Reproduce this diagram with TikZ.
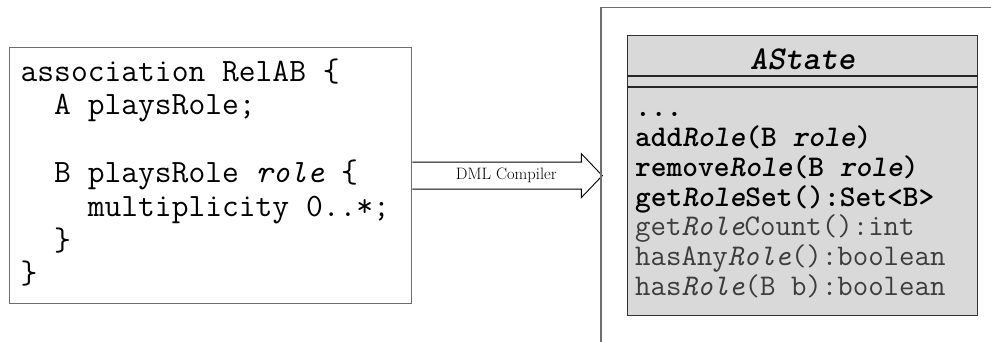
\documentclass[tikz,border=0pt]{standalone}
\usepackage{fontspec}
\usetikzlibrary{positioning, calc}

\definecolor{boxgray}{HTML}{6E6E6E}
\definecolor{classfill}{HTML}{D9D9D9}
\definecolor{opgray}{HTML}{3C3C3C}

% keep the full mono space inside align=left nodes
\newcommand{\monosp}{\spaceskip=0pt\xspaceskip=0pt\relax}

\tikzset{
    codebox/.style={draw=boxgray, line width=1.3pt, align=left, inner xsep=11pt, inner ysep=0pt,
        text width=380pt, minimum height=256pt, font=\ttfamily\fontsize{32.6}{33.8}\selectfont},
    compiler/.style={draw, line width=0.9pt, line join=miter},
    classbox/.style={draw=black!80, line width=1.3pt, fill=classfill, minimum width=350pt,
        minimum height=280pt, inner sep=0pt},
    classline/.style={line width=1.3pt, draw=black!85},
    opsbox/.style={align=left, inner xsep=8pt, inner ysep=9pt, text width=334pt,
        font=\ttfamily\fontsize{30}{29.7}\selectfont}
}

\begin{document}
\begin{tikzpicture}[x=1pt, y=-1pt]
    \useasboundingbox (0, 0) rectangle (991, 342);

    % DML source
    \node[codebox, anchor=north west] (src) at (9, 47) {\monosp
        \strut association RelAB \{\\
        ~~A playsRole;\\
        ~\\
        ~~B playsRole \textit{role} \{\\
        ~~~~multiplicity 0..*;\\
        ~~\}\\
        \}\strut};

    % compiler arrow
    \draw[compiler] ($(src.east) + (0, -13.5)$) -- ++(169, 0) -- ++(0, -8.5) -- ++(21, 22)
        -- ++(-21, 22) -- ++(0, -8.5) -- ++(-169, 0);
    \node[font=\fontsize{16.5}{18}\selectfont] (comp) at ($(src.east) + (94, 0)$) {DML Compiler};

    % generated code frame
    \draw[boxgray, line width=1.5pt] (601, 342) |- (991, 7.5);

    \node[classbox, anchor=north west] (cls) at (627, 35) {};
    \node[font=\ttfamily\bfseries\itshape\fontsize{33.3}{34}\selectfont] (title)
        at ($(cls.north) + (0, 24)$) {AState};
    \draw[classline] ($(cls.north west) + (0, 41)$) -- ($(cls.north east) + (0, 41)$);
    \draw[classline] ($(cls.north west) + (0, 52)$) -- ($(cls.north east) + (0, 52)$);

    \node[opsbox, anchor=north west] (ops) at ($(cls.north west) + (0, 52)$) {\monosp
        \strut\textbf{...}\\
        \textbf{add\textit{Role}(B \textit{role})}\\
        \textbf{remove\textit{Role}(B \textit{role})}\\
        \textbf{get\textit{Role}Set():Set<B>}\\
        \textcolor{opgray}{get\textit{Role}Count():int}\\
        \textcolor{opgray}{hasAny\textit{Role}():boolean}\\
        \textcolor{opgray}{has\textit{Role}(B b):boolean}};
\end{tikzpicture}
\end{document}
